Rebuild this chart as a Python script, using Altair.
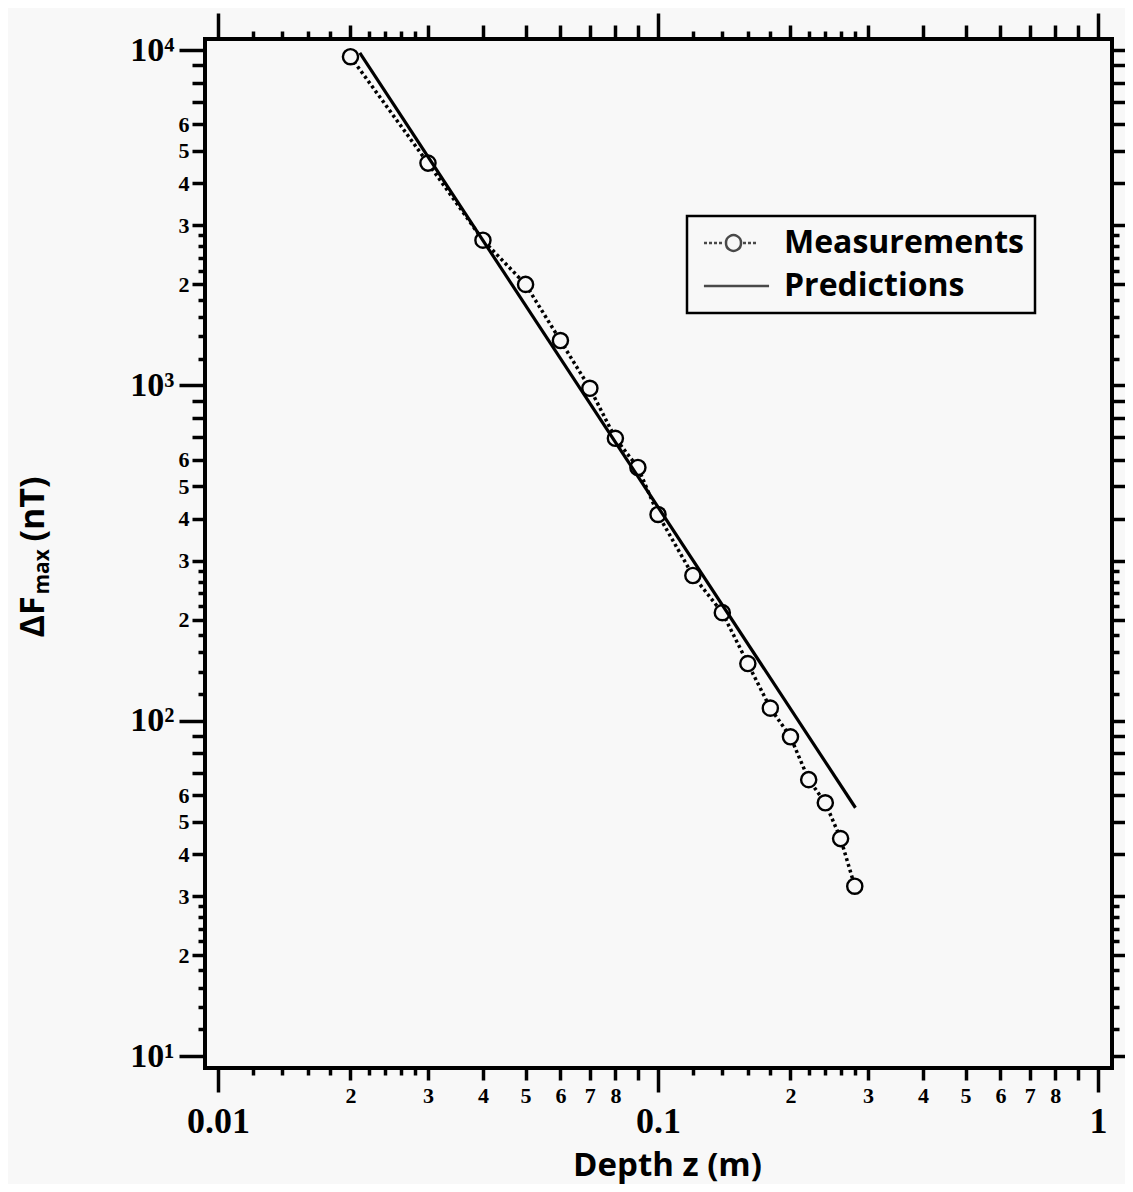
import altair as alt
import pandas as pd

# ---- data ----
depth_m = [0.02, 0.03, 0.04, 0.05, 0.06, 0.07, 0.08, 0.09, 0.10,
           0.12, 0.14, 0.16, 0.18, 0.20, 0.22, 0.24, 0.26, 0.28]
meas_nT = [9550, 4600, 2710, 2000, 1360, 980, 695, 569, 412,
           271, 210, 148, 109, 89.5, 66.7, 56.9, 44.5, 32.1]
pred_depth_m = [0.021, 0.281]
pred_nT = [9800, 55]
series_names = ["Measurements", "Predictions"]

x_domain = [0.00934, 1.076]
y_domain = [9.21, 10786]

x_decades = [0.01, 0.1, 1]
x_mid = [0.02, 0.03, 0.04, 0.05, 0.06, 0.07, 0.08, 0.09,
         0.2, 0.3, 0.4, 0.5, 0.6, 0.7, 0.8, 0.9]
x_small = [0.012, 0.014, 0.016, 0.018, 0.022, 0.024, 0.026, 0.028,
           0.12, 0.14, 0.16, 0.18, 0.22, 0.24, 0.26, 0.28]
y_decades = [10, 100, 1000, 10000]
y_mid = [20, 30, 40, 50, 60, 70, 80, 90,
         200, 300, 400, 500, 600, 700, 800, 900,
         2000, 3000, 4000, 5000, 6000, 7000, 8000, 9000]
y_small = [12, 14, 16, 18, 22, 24, 26, 28,
           120, 140, 160, 180, 220, 240, 260, 280,
           1200, 1400, 1600, 1800, 2200, 2400, 2600, 2800]

BG = "#f8f8f8"
NUM_FONT = "Liberation Serif"
TXT_FONT = "Open Sans"

df_meas = pd.DataFrame({"depth": depth_m, "value": meas_nT, "series": "Measurements"})
df_pred = pd.DataFrame({"depth": pred_depth_m, "value": pred_nT, "series": "Predictions"})

xs = alt.Scale(type="log", domain=x_domain, nice=False)
ys = alt.Scale(type="log", domain=y_domain, nice=False)

DIGIT = "floor(datum.value / pow(10, floor(log(datum.value) / LN10 + 1e-6)) + 0.5)"

common = dict(grid=False, domain=False, labelFlush=False, labelOverlap=False,
              labelBound=False, tickColor="black", tickWidth=3.5, labelColor="black",
              ticks=True)


def ax(**kw):
    d = dict(common)
    d.update(kw)
    if "title" not in d:
        d["title"] = None
    return alt.Axis(**d)


bottom_long = ax(orient="bottom", values=x_decades, tickSize=24,
                 labelExpr="datum.value == 1 ? '1' : datum.value == 0.1 ? '0.1' : '0.01'",
                 labelFont=NUM_FONT, labelFontWeight="bold", labelFontSize=36, labelPadding=12,
                 title="Depth z (m)", titleX=462, titleY=107, titleFont=TXT_FONT,
                 titleFontWeight="bold", titleFontSize=33, titleAlign="center",
                 titleBaseline="alphabetic", titleColor="black")
bottom_mid = ax(orient="bottom", values=x_mid, tickSize=12,
                labelExpr=f"{DIGIT} == 9 ? '' : '' + {DIGIT}",
                labelFont=NUM_FONT, labelFontWeight="bold", labelFontSize=22, labelPadding=5)
bottom_small = ax(orient="bottom", values=x_small, tickSize=7, labels=False)
top_long = ax(orient="top", values=x_decades, tickSize=26, labels=False)
top_mid = ax(orient="top", values=x_mid, tickSize=14, labels=False)
top_small = ax(orient="top", values=x_small, tickSize=8, labels=False)

left_long = ax(orient="left", values=y_decades, tickSize=26,
               labelExpr="datum.value == 10 ? '10¹' : datum.value == 100 ? '10²' : datum.value == 1000 ? '10³' : '10⁴'",
               labelFont=NUM_FONT, labelFontWeight="bold", labelFontSize=34, labelPadding=5,
               title="ΔF", titleAngle=270, titleX=-162, titleY=598, titleAlign="left",
               titleBaseline="alphabetic", titleFont=TXT_FONT, titleFontWeight="bold",
               titleFontSize=34, titleColor="black")
left_mid = ax(orient="left", values=y_mid, tickSize=13,
              labelExpr=f"{DIGIT} > 6 ? '' : '' + {DIGIT}",
              labelFont=NUM_FONT, labelFontWeight="bold", labelFontSize=22, labelPadding=3,
              title="max", titleAngle=270, titleX=-157, titleY=555, titleAlign="left",
              titleBaseline="alphabetic", titleFont=TXT_FONT, titleFontWeight="bold",
              titleFontSize=21, titleColor="black")
left_small = ax(orient="left", values=y_small, tickSize=7, labels=False,
                title="(nT)", titleAngle=270, titleX=-162, titleY=502, titleAlign="left",
                titleBaseline="alphabetic", titleFont=TXT_FONT, titleFontWeight="bold",
                titleFontSize=34, titleColor="black")
right_long = ax(orient="right", values=y_decades, tickSize=26, labels=False)
right_mid = ax(orient="right", values=y_mid, tickSize=13, labels=False)
right_small = ax(orient="right", values=y_small, tickSize=7, labels=False)


def enc(xaxis=None, yaxis=None):
    return dict(x=alt.X("depth:Q", scale=xs, axis=xaxis),
                y=alt.Y("value:Q", scale=ys, axis=yaxis))


def carrier(xaxis, yaxis):
    return (alt.Chart(df_meas).transform_filter("false")
            .mark_point(opacity=0).encode(**enc(xaxis, yaxis)))


carriers = [carrier(bottom_long, left_long), carrier(bottom_mid, left_mid),
            carrier(bottom_small, left_small), carrier(top_long, right_long),
            carrier(top_mid, right_mid), carrier(top_small, right_small)]

meas_line = alt.Chart(df_meas).mark_line(
    color="black", strokeWidth=3.5, strokeDash=[3, 3], clip=True).encode(**enc())
meas_pts = alt.Chart(df_meas).mark_point(
    shape="circle", size=230, fill=BG, stroke="black", strokeWidth=2.4,
    filled=False, opacity=1, fillOpacity=1, clip=True).encode(**enc())
pred_line = alt.Chart(df_pred).mark_line(
    color="black", strokeWidth=3.2, clip=True).encode(**enc())

meas_path = ("M-2.286,0H-2.071M-1.929,0H-1.714M-1.571,0H-1.357M-1.214,0H-1.0"
             "M0.5,0H0.714M0.857,0H1.071M1.214,0H1.429"
             "M0.357,0A0.536,0.536,0,1,1,-0.714,0A0.536,0.536,0,1,1,0.357,0Z")
pred_path = "M-2.29,0H2.36"

legend_layer = (alt.Chart(df_meas).transform_filter("false")
                .mark_point(filled=False, color="black", strokeWidth=2.5)
                .encode(**enc(),
                        shape=alt.Shape("series:N",
                                        scale=alt.Scale(domain=series_names,
                                                        range=[meas_path, pred_path]),
                                        legend=alt.Legend(
                                            title=None, orient="none", legendX=482, legendY=177,
                                            padding=11, symbolSize=784, symbolStrokeWidth=2.5,
                                            symbolStrokeColor="black", symbolOffset=22,
                                            labelOffset=32, labelFont=TXT_FONT, labelFontSize=32,
                                            labelFontWeight="bold", labelColor="black",
                                            labelLimit=0, rowPadding=11, strokeColor="black",
                                            fillColor=BG))))

chart = (alt.layer(*carriers, meas_line, meas_pts, pred_line, legend_layer)
         .resolve_axis(x="independent", y="independent")
         .properties(width=907, height=1029,
                     autosize=alt.AutoSizeParams(type="none"),
                     padding={"left": 197, "top": 31, "right": 13, "bottom": 116},
                     background=BG)
         .configure_view(stroke="black", strokeWidth=4, fill=BG)
         .configure_legend(strokeWidth=2.5))

chart.save("out.html", embed_options={"renderer": "svg", "actions": False})
